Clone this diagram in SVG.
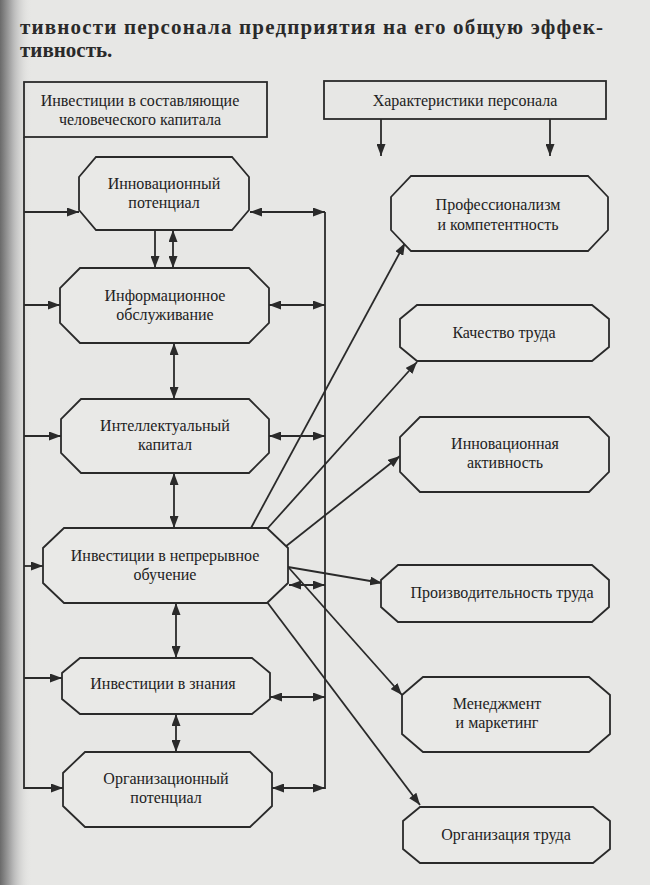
<svg xmlns="http://www.w3.org/2000/svg" width="650" height="885" viewBox="0 0 650 885">
<defs>
<linearGradient id="shadow" x1="0" y1="0" x2="1" y2="0">
<stop offset="0" stop-color="#6a6a6a"/>
<stop offset="0.4" stop-color="#b5b5b5"/>
<stop offset="1" stop-color="#e7e7e5" stop-opacity="0"/>
</linearGradient>
<marker id="ah" viewBox="0 0 12 9" refX="12" refY="4.5" markerWidth="12" markerHeight="9" markerUnits="userSpaceOnUse" orient="auto-start-reverse">
<path d="M0,0 L12,4.5 L0,9 z" fill="#2a2a2a"/>
</marker>
<style>
.bg{fill:#e7e7e5}
.box{fill:none;stroke:#2a2a2a;stroke-width:1.8}
.nd{fill:#e9e9e7;stroke:#2a2a2a;stroke-width:1.8}
.ln{fill:none;stroke:#2a2a2a;stroke-width:1.8}
.a1{marker-end:url(#ah)}
.a2{marker-start:url(#ah);marker-end:url(#ah)}
.t{font-family:'Liberation Serif','DejaVu Serif','Times New Roman',serif;font-size:16px;fill:#222;text-anchor:middle}
.h{font-family:'Liberation Serif','DejaVu Serif','Times New Roman',serif;font-size:21px;font-weight:bold;fill:#2a2a2a}
</style>
</defs>
<rect class="bg" x="0" y="0" width="650" height="885"/>
<rect x="0" y="0" width="32" height="885" fill="url(#shadow)"/>

<g id="header">
<text class="h" x="20" y="34" textLength="583" lengthAdjust="spacing">тивности персонала предприятия на его общую эффек-</text>
<text class="h" x="20" y="57">тивность.</text>
</g>

<g id="connectors">
<line class="ln" x1="24" y1="137" x2="24" y2="789"/>
<line class="ln a1" x1="24" y1="212" x2="79" y2="212"/>
<line class="ln a1" x1="24" y1="305" x2="60" y2="305"/>
<line class="ln a1" x1="24" y1="436" x2="61" y2="436"/>
<line class="ln a1" x1="24" y1="566" x2="43" y2="566"/>
<line class="ln a1" x1="24" y1="678" x2="62" y2="678"/>
<line class="ln a1" x1="24" y1="788" x2="63" y2="788"/>
<line class="ln" x1="325" y1="212" x2="325" y2="789"/>
<line class="ln a2" x1="250" y1="212" x2="325" y2="212"/>
<line class="ln a2" x1="269" y1="305" x2="325" y2="305"/>
<line class="ln a2" x1="269" y1="436" x2="325" y2="436"/>
<line class="ln a2" x1="289" y1="585" x2="325" y2="585"/>
<line class="ln a2" x1="270" y1="697" x2="325" y2="697"/>
<line class="ln a2" x1="272" y1="788" x2="325" y2="788"/>
<line class="ln a1" x1="155" y1="230" x2="155" y2="268"/>
<line class="ln a2" x1="173" y1="230" x2="173" y2="268"/>
<line class="ln a2" x1="174" y1="343" x2="174" y2="399"/>
<line class="ln a2" x1="174" y1="473" x2="174" y2="528"/>
<line class="ln a2" x1="176" y1="603" x2="176" y2="658"/>
<line class="ln a2" x1="176" y1="714" x2="176" y2="752"/>
<line class="ln a1" x1="381" y1="119" x2="381" y2="156"/>
<line class="ln a1" x1="550" y1="119" x2="550" y2="156"/>
<line class="ln a1" x1="251" y1="528" x2="405" y2="243"/>
<line class="ln a1" x1="267" y1="529" x2="417" y2="362"/>
<line class="ln a1" x1="285" y1="547" x2="400" y2="456"/>
<line class="ln a1" x1="288" y1="567" x2="382" y2="583"/>
<line class="ln a1" x1="289" y1="568" x2="402" y2="695"/>
<line class="ln a1" x1="267" y1="602" x2="420" y2="805"/>
</g>

<g id="box-investments">
<rect class="box" x="24" y="82" width="243" height="55"/>
<text class="t" x="140" y="106">Инвестиции в составляющие</text>
<text class="t" x="140" y="125">человеческого капитала</text>
</g>
<g id="box-characteristics">
<rect class="box" x="324" y="81" width="282" height="38"/>
<text class="t" x="465" y="106">Характеристики персонала</text>
</g>

<g id="node-innov-potential">
<polygon class="nd" points="96,157 232,157 249,177 249,210 232,230 96,230 79,210 79,177"/>
<text class="t" x="164" y="189">Инновационный</text>
<text class="t" x="164" y="208">потенциал</text>
</g>
<g id="node-info">
<polygon class="nd" points="80,268 249,268 269,288 269,323 249,343 80,343 60,323 60,288"/>
<text class="t" x="165" y="301">Информационное</text>
<text class="t" x="165" y="320">обслуживание</text>
</g>
<g id="node-intellect">
<polygon class="nd" points="81,399 249,399 269,419 269,453 249,473 81,473 61,453 61,419"/>
<text class="t" x="165" y="431">Интеллектуальный</text>
<text class="t" x="165" y="450">капитал</text>
</g>
<g id="node-training">
<polygon class="nd" points="64,528 267,528 288,548 288,583 267,603 64,603 43,583 43,548"/>
<text class="t" x="165" y="561">Инвестиции в непрерывное</text>
<text class="t" x="165" y="580">обучение</text>
</g>
<g id="node-knowledge">
<polygon class="nd" points="80,658 252,658 270,673 270,699 252,714 80,714 62,699 62,673"/>
<text class="t" x="163" y="689">Инвестиции в знания</text>
</g>
<g id="node-org-potential">
<polygon class="nd" points="85,752 250,752 272,773 272,806 250,827 85,827 63,806 63,773"/>
<text class="t" x="166" y="784">Организационный</text>
<text class="t" x="166" y="803">потенциал</text>
</g>

<g id="node-prof">
<polygon class="nd" points="411,176 588,176 608,197 608,230 588,251 411,251 391,230 391,197"/>
<text class="t" x="498" y="210">Профессионализм</text>
<text class="t" x="498" y="230">и компетентность</text>
</g>
<g id="node-quality">
<polygon class="nd" points="417,305 592,305 609,319 609,347 592,361 417,361 400,347 400,319"/>
<text class="t" x="504" y="338">Качество труда</text>
</g>
<g id="node-innov-activity">
<polygon class="nd" points="420,417 589,417 609,437 609,472 589,492 420,492 400,472 400,437"/>
<text class="t" x="505" y="449">Инновационная</text>
<text class="t" x="505" y="468">активность</text>
</g>
<g id="node-productivity">
<polygon class="nd" points="398,565 592,565 609,580 609,607 592,622 398,622 381,607 381,580"/>
<text class="t" x="502" y="598">Производительность труда</text>
</g>
<g id="node-management">
<polygon class="nd" points="423,677 589,677 610,695 610,734 589,752 423,752 402,734 402,695"/>
<text class="t" x="497" y="709">Менеджмент</text>
<text class="t" x="497" y="728">и маркетинг</text>
</g>
<g id="node-labour-org">
<polygon class="nd" points="420,807 593,807 610,821 610,849 593,863 420,863 403,849 403,821"/>
<text class="t" x="506" y="840">Организация труда</text>
</g>
</svg>
